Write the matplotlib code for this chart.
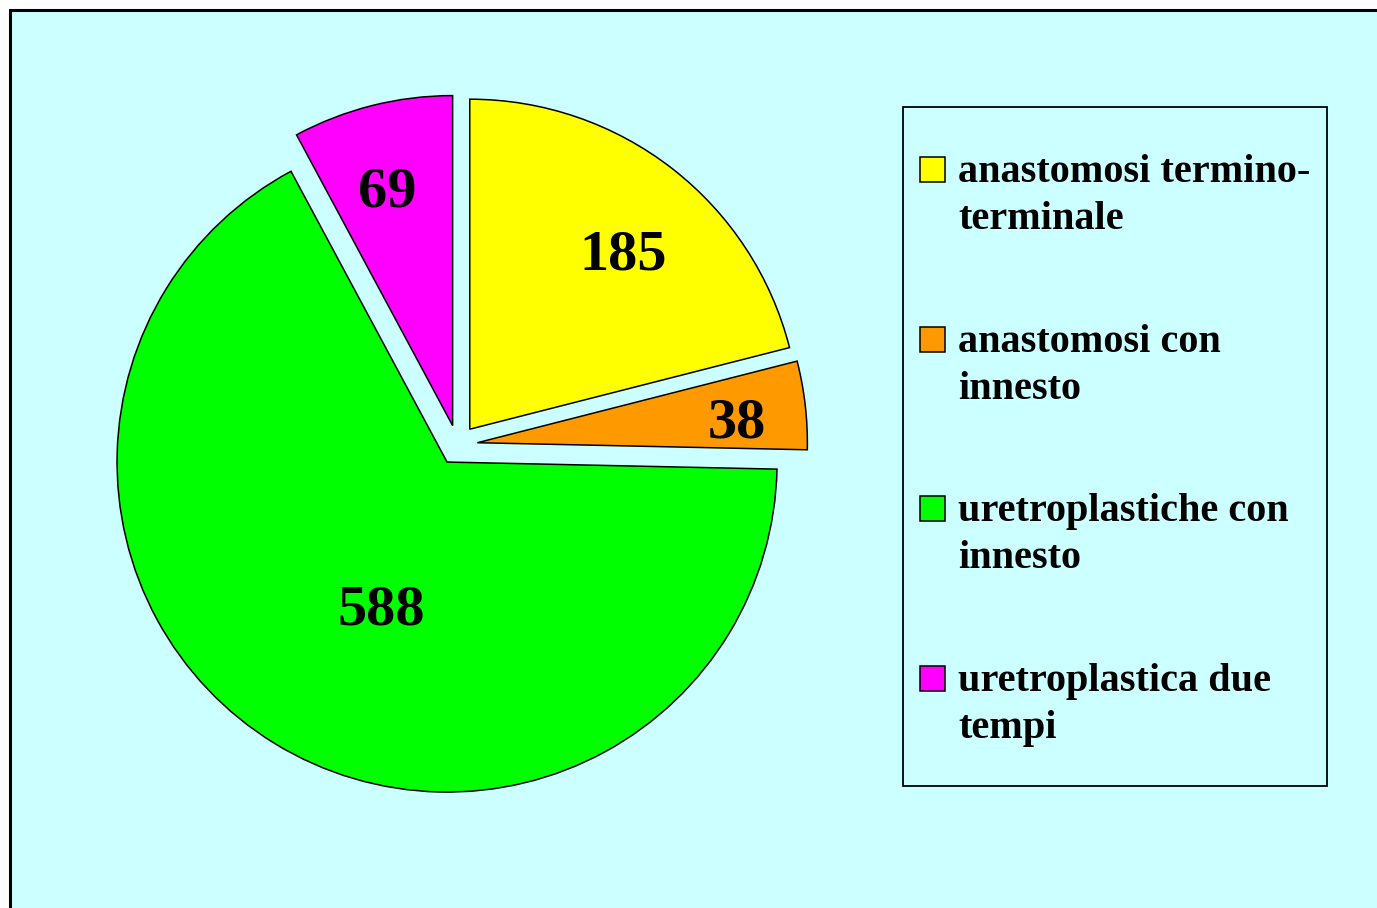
import matplotlib.pyplot as plt
from matplotlib.patches import Rectangle
import numpy as np

# dati
categorie = ["anastomosi termino-\nterminale", "anastomosi con\ninnesto",
             "uretroplastiche con\ninnesto", "uretroplastica due\ntempi"]
valori = [185, 38, 588, 69]
colori = ["#FFFF00", "#FF9900", "#00FF00", "#FF00FF"]
# posizione etichette: frazione del raggio e scarto angolare (gradi)
dist_etichette = [0.71, 0.79, 0.48, 0.745]
scarto_ang = [-3, -1.5, 7, 1.2]

W, H = 1377, 908
fig = plt.figure(figsize=(W / 100, H / 100), dpi=100, facecolor="white")
ax = fig.add_axes([0, 0, 1, 1])

# sfondo con bordo
ax.add_patch(Rectangle((10, -50), W + 50, H - 10 + 50, facecolor="#CCFFFF",
                       edgecolor="black", linewidth=2.2, zorder=0))

r = 330
# explode in pixel (matplotlib non lo scala col raggio)
wedges, _ = ax.pie(valori, colors=colori, startangle=90, counterclock=False,
                   explode=[20] * len(valori), radius=r, center=(457.5, H - 445),
                   wedgeprops=dict(edgecolor="black", linewidth=1.1), frame=True)
ax.set_xlim(0, W)
ax.set_ylim(0, H)
ax.axis("off")
ax.set_aspect("auto")

serif = ["Liberation Serif", "DejaVu Serif"]
for w, v, f, da in zip(wedges, valori, dist_etichette, scarto_ang):
    ang = np.deg2rad((w.theta1 + w.theta2) / 2 + da)
    cx, cy = w.center
    ax.text(cx + r * f * np.cos(ang), cy + r * f * np.sin(ang) - 4, str(v),
            ha="center", va="center", fontsize=42, fontweight="bold",
            family=serif, zorder=5)

# legenda
ax.add_patch(Rectangle((903, H - 786), 1327 - 903, 786 - 107, facecolor="none",
                       edgecolor="black", linewidth=1.3, zorder=4))
passo = 169.5
for i, (lab, col) in enumerate(zip(categorie, colori)):
    top = 157 + i * passo
    ax.add_patch(Rectangle((920, H - top - 25), 25, 25, facecolor=col,
                           edgecolor="black", linewidth=1.1, zorder=5))
    ax.text(958, H - top + 3, lab, ha="left", va="top", fontsize=29,
            fontweight="bold", family=serif, linespacing=1.37, zorder=5)

fig.savefig("out.png", dpi=100)
